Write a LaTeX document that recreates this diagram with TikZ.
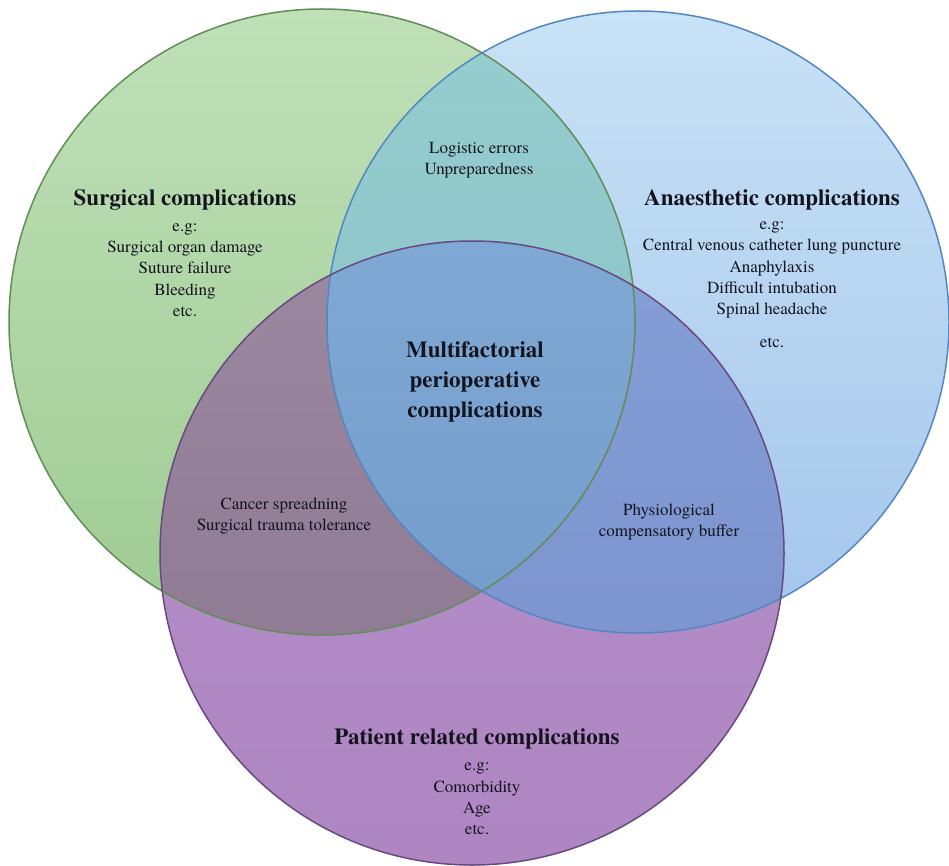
\documentclass[tikz,border=0pt]{standalone}
\usepackage{fontspec}
\setmainfont{texgyretermes}[Extension=.otf, UprightFont=*-regular, BoldFont=*-bold, ItalicFont=*-italic, BoldItalicFont=*-bolditalic]
\definecolor{Gt}{RGB}{192,224,184}
\definecolor{Gb}{RGB}{158,203,146}
\definecolor{Bt}{RGB}{200,226,246}
\definecolor{Bb}{RGB}{164,198,236}
\definecolor{Pt}{RGB}{182,146,202}
\definecolor{Pb}{RGB}{174,134,194}
\definecolor{GBt}{RGB}{150,206,206}
\definecolor{GBb}{RGB}{134,190,200}
\definecolor{GPt}{RGB}{156,136,160}
\definecolor{GPb}{RGB}{136,118,142}
\definecolor{BPt}{RGB}{132,158,214}
\definecolor{BPb}{RGB}{122,144,204}
\definecolor{Ct}{RGB}{128,168,212}
\definecolor{Cb}{RGB}{108,150,200}
\definecolor{Gl}{RGB}{98,140,88}
\definecolor{Bl}{RGB}{84,134,196}
\definecolor{Pl}{RGB}{104,74,128}
\definecolor{txt}{RGB}{20,20,30}
\begin{document}
\begin{tikzpicture}[x=1pt,y=-1pt,
  title/.style={font=\fontsize{23}{30}\selectfont\bfseries, text=txt, align=center, inner sep=0pt},
  body/.style={font=\fontsize{17}{21.4}\selectfont, text=txt, align=center, inner sep=0pt},
  ring/.style={line width=1.5pt}]
\useasboundingbox (0,0) rectangle (949,866);
\coordinate (gc) at (322,322);
\coordinate (bc) at (638,322);
\coordinate (pc) at (472,553);
% single regions
\shade[top color=Gt, bottom color=Gb] (gc) circle[radius=313];
\shade[top color=Bt, bottom color=Bb] (bc) circle[radius=311];
\shade[top color=Pt, bottom color=Pb] (pc) circle[radius=312];
% overlaps
\begin{scope}
  \clip (gc) circle[radius=313];
  \shade[top color=GBt, bottom color=GBb] (bc) circle[radius=311];
\end{scope}
\begin{scope}
  \clip (gc) circle[radius=313];
  \shade[top color=GPt, bottom color=GPb] (pc) circle[radius=312];
\end{scope}
\begin{scope}
  \clip (bc) circle[radius=311];
  \shade[top color=BPt, bottom color=BPb] (pc) circle[radius=312];
\end{scope}
\begin{scope}
  \clip (gc) circle[radius=313];
  \clip (bc) circle[radius=311];
  \shade[top color=Ct, bottom color=Cb] (pc) circle[radius=312];
\end{scope}
% outlines
\draw[ring, Gl] (gc) circle[radius=313];
\draw[ring, Bl] (bc) circle[radius=311];
\draw[ring, Pl] (pc) circle[radius=312];
% texts
\node[title] (st) at (185,200) {Surgical complications};
\node[body] (sb) at (185,270) {e.g:\\Surgical organ damage\\Suture failure\\Bleeding\\etc.};
\node[title] (at) at (772,200) {Anaesthetic complications};
\node[body] (ab) at (772,270) {e.g:\\Central venous catheter lung puncture\\Anaphylaxis\\Difficult intubation\\Spinal headache};
\node[body] (ae) at (772,343) {etc.};
\node[body] (lg) at (479,160) {Logistic errors\\Unpreparedness};
\node[title] (mc) at (475,382) {Multifactorial\\perioperative\\complications};
\node[body] (cs) at (284,516) {Cancer spreadning\\Surgical trauma tolerance};
\node[body] (ph) at (669,522) {Physiological\\compensatory buffer};
\node[title] (pt) at (477,739) {Patient related complications};
\node[body] (pb) at (477,799) {e.g:\\Comorbidity\\Age\\etc.};
\end{tikzpicture}
\end{document}
